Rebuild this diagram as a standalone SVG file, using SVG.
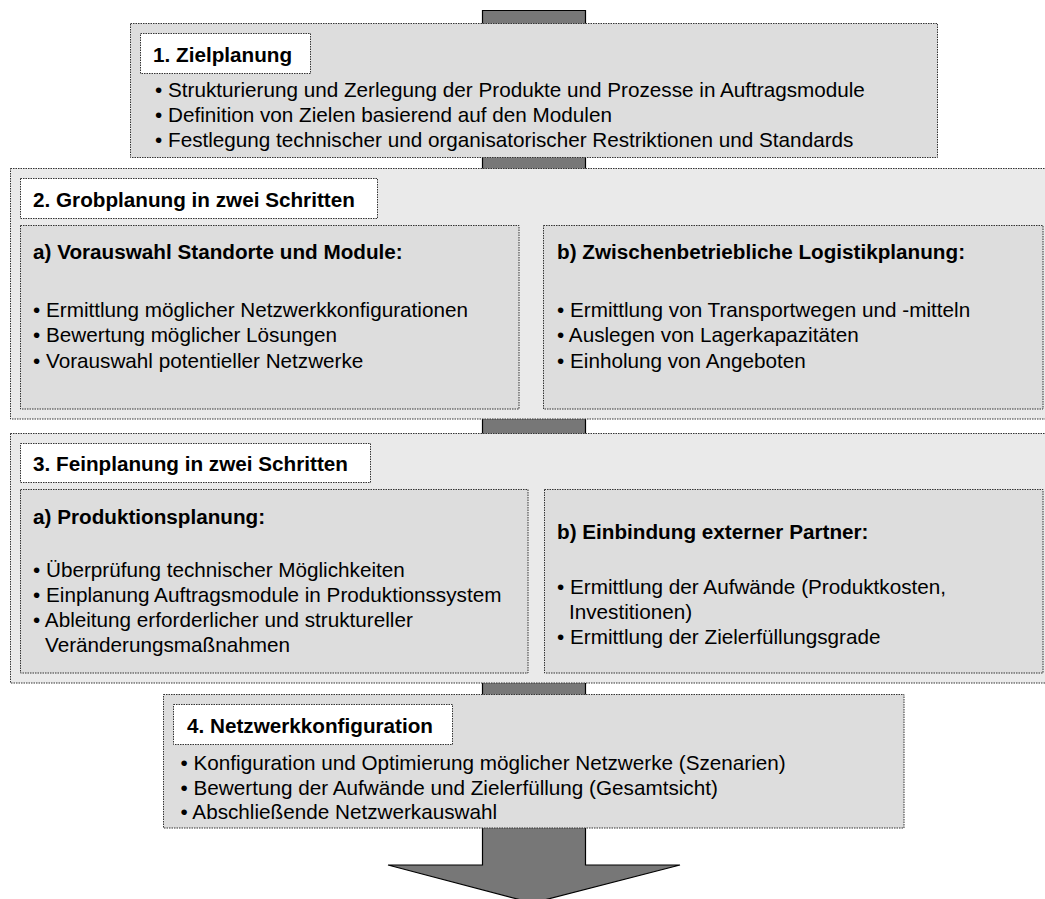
<svg xmlns="http://www.w3.org/2000/svg" width="1045" height="899" viewBox="0 0 1045 899">
<style>
.outer{fill:#eaeaea;stroke:#333;stroke-width:1;stroke-dasharray:1.5 1}
.box{fill:#dddddd;stroke:#333;stroke-width:1;stroke-dasharray:1.5 1}
.title{fill:#ffffff;stroke:#333;stroke-width:1;stroke-dasharray:1.5 1}
text{font-family:"Liberation Sans",Arial,sans-serif;font-size:20.7px;fill:#000}
.b{font-weight:bold}
</style>
<rect width="1045" height="899" fill="#ffffff"/>
<g id="connectors">
<polygon id="arrow" points="482.5,10.5 585.5,10.5 585.5,865 680,865 532.5,903 388,865 482.5,865" fill="#777777" stroke="#000" stroke-width="1.2"/>
</g>
<g id="node1">
<rect class="box" x="130.5" y="23.5" width="807" height="134"/>
<rect class="title" x="140.5" y="33.5" width="170" height="40"/>
<text class="b" x="153" y="62">1. Zielplanung</text>
<text x="155" y="97">• Strukturierung und Zerlegung der Produkte und Prozesse in Auftragsmodule</text>
<text x="155" y="122">• Definition von Zielen basierend auf den Modulen</text>
<text x="155" y="147">• Festlegung technischer und organisatorischer Restriktionen und Standards</text>
</g>
<g id="node2">
<rect class="outer" x="10.5" y="168.5" width="1045" height="250.5"/>
<rect class="title" x="20.5" y="178.5" width="357" height="40"/>
<text class="b" x="33" y="207">2. Grobplanung in zwei Schritten</text>
<g id="node2a">
<rect class="box" x="20.5" y="225.5" width="498.5" height="183.5"/>
<text class="b" x="33" y="259">a) Vorauswahl Standorte und Module:</text>
<text x="33" y="317">• Ermittlung möglicher Netzwerkkonfigurationen</text>
<text x="33" y="342">• Bewertung möglicher Lösungen</text>
<text x="33" y="368">• Vorauswahl potentieller Netzwerke</text>
</g>
<g id="node2b">
<rect class="box" x="543.5" y="225.5" width="499.5" height="183.5"/>
<text class="b" x="557" y="259">b) Zwischenbetriebliche Logistikplanung:</text>
<text x="557" y="317">• Ermittlung von Transportwegen und -mitteln</text>
<text x="557" y="342">• Auslegen von Lagerkapazitäten</text>
<text x="557" y="368">• Einholung von Angeboten</text>
</g>
</g>
<g id="node3">
<rect class="outer" x="10.5" y="433.5" width="1045" height="249.5"/>
<rect class="title" x="20.5" y="443.5" width="350" height="39"/>
<text class="b" x="33" y="471">3. Feinplanung in zwei Schritten</text>
<g id="node3a">
<rect class="box" x="20.5" y="489.5" width="507.5" height="183.5"/>
<text class="b" x="33" y="524">a) Produktionsplanung:</text>
<text x="33" y="577">• Überprüfung technischer Möglichkeiten</text>
<text x="33" y="602">• Einplanung Auftragsmodule in Produktionssystem</text>
<text x="33" y="627">• Ableitung erforderlicher und struktureller</text>
<text x="45" y="652">Veränderungsmaßnahmen</text>
</g>
<g id="node3b">
<rect class="box" x="544.5" y="489.5" width="498.5" height="183.5"/>
<text class="b" x="557" y="539">b) Einbindung externer Partner:</text>
<text x="557" y="594">• Ermittlung der Aufwände (Produktkosten,</text>
<text x="569" y="619">Investitionen)</text>
<text x="557" y="644">• Ermittlung der Zielerfüllungsgrade</text>
</g>
</g>
<g id="node4">
<rect class="box" x="163.5" y="694.5" width="740.5" height="133.5"/>
<rect class="title" x="173.5" y="704.5" width="279" height="40"/>
<text class="b" x="187" y="733">4. Netzwerkkonfiguration</text>
<text x="180.5" y="770">• Konfiguration und Optimierung möglicher Netzwerke (Szenarien)</text>
<text x="180.5" y="795">• Bewertung der Aufwände und Zielerfüllung (Gesamtsicht)</text>
<text x="180.5" y="819">• Abschließende Netzwerkauswahl</text>
</g>
</svg>
